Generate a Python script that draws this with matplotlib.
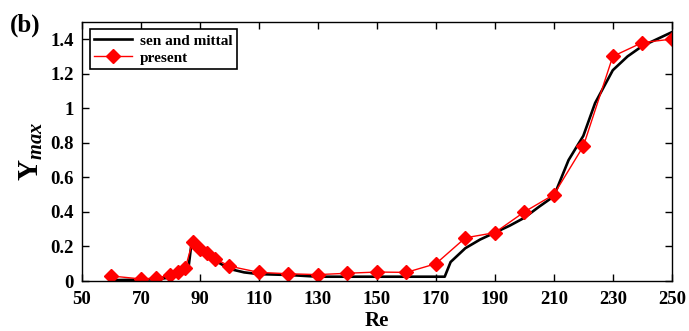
import matplotlib
matplotlib.use('Agg')
import matplotlib.pyplot as plt
import numpy as np

plt.rcParams['font.family'] = ['Liberation Serif', 'DejaVu Serif']
plt.rcParams['font.weight'] = 'bold'
plt.rcParams['mathtext.fontset'] = 'custom'
plt.rcParams['mathtext.it'] = 'Liberation Serif:italic:bold'
plt.rcParams['mathtext.rm'] = 'Liberation Serif:bold'

# sen and mittal
re_sen = [60, 70, 75, 80, 84, 86, 87, 88, 90, 92, 95, 100, 105, 110, 120, 130, 140, 150, 160, 170,
          173, 175, 180, 185, 190, 195, 200, 205, 210, 215, 220, 224, 230, 235, 240, 245, 250]
y_sen = [0.005, 0.008, 0.01, 0.02, 0.04, 0.06, 0.2, 0.22, 0.18, 0.15, 0.12, 0.07, 0.05, 0.04, 0.035,
         0.025, 0.025, 0.025, 0.025, 0.025, 0.025, 0.11, 0.19, 0.24, 0.28, 0.32, 0.366, 0.43, 0.49,
         0.70, 0.84, 1.03, 1.22, 1.30, 1.36, 1.40, 1.44]

# present
re_pr = [60, 70, 75, 80, 82.5, 85, 87.5, 90, 92.5, 95, 100, 110, 120, 130, 140, 150, 160, 170,
         180, 190, 200, 210, 220, 230, 240, 250]
y_pr = [0.029, 0.012, 0.017, 0.035, 0.054, 0.073, 0.227, 0.184, 0.16, 0.13, 0.086, 0.05, 0.042,
        0.037, 0.045, 0.052, 0.05, 0.10, 0.25, 0.28, 0.40, 0.50, 0.78, 1.30, 1.38, 1.40]

fig = plt.figure(figsize=(6.89, 3.31), dpi=100)
ax = fig.add_axes([0.119, 0.151, 0.856, 0.783])

ax.plot(re_sen, y_sen, color='black', lw=1.9, label='sen and mittal')
ax.plot(re_pr, y_pr, color='red', lw=1.0, marker='D', markersize=7.5,
        markerfacecolor='red', markeredgecolor='red', label='present')

ax.set_xlim(50, 250)
ax.set_ylim(0, 1.5)
ax.set_xticks(np.arange(50, 251, 20))
ax.set_yticks([0, 0.2, 0.4, 0.6, 0.8, 1.0, 1.2, 1.4])
ax.set_yticklabels(['0', '0.2', '0.4', '0.6', '0.8', '1', '1.2', '1.4'])
ax.tick_params(direction='in', top=True, right=True, labelsize=13.5, length=5, width=1)
ax.tick_params(axis='x', pad=7)
ax.tick_params(axis='y', pad=6)
for lab in ax.get_xticklabels() + ax.get_yticklabels():
    lab.set_fontweight('bold')
for s in ax.spines.values():
    s.set_linewidth(1.0)

ax.set_xlabel('Re', fontsize=15, fontweight='bold', labelpad=2)
ax.set_ylabel(r'Y$_{max}$', fontsize=21, fontweight='bold', labelpad=4)

leg = ax.legend(loc='upper left', fontsize=11, frameon=True, fancybox=False,
                edgecolor='black', framealpha=1, borderpad=0.3, handlelength=2.5,
                labelspacing=0.2, borderaxespad=0.5, handletextpad=0.5)
leg.get_frame().set_linewidth(1.2)
for t in leg.get_texts():
    t.set_fontweight('bold')

fig.text(0.014, 0.905, '(b)', fontsize=18, fontweight='bold')

fig.savefig('out.png', dpi=100)
